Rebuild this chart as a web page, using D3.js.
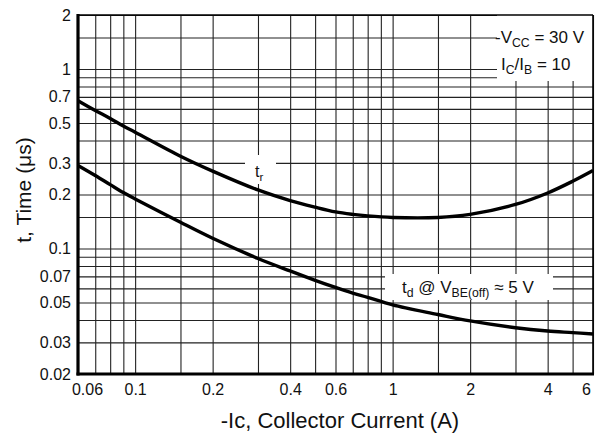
<!DOCTYPE html>
<html>
<head>
<meta charset="utf-8">
<script src="https://cdn.jsdelivr.net/npm/d3@7"></script>
<style>
  body { margin: 0; background: #fff; }
  svg { display: block; font-family: "Liberation Sans", Arial, sans-serif; }
  .grid line { stroke: #222; stroke-width: 1.1; }
  .grid path { display: none; }
  .lbl path { display: none; }
  .lbl text { font-size: 16px; fill: #111; }
  .curve { fill: none; stroke: #000; stroke-width: 3.4; }
</style>
</head>
<body>
<script>
// switching time vs collector current
const current = [0.06, 0.07, 0.08, 0.09, 0.1, 0.15, 0.2, 0.3, 0.4, 0.5, 0.6, 0.7, 0.8, 1, 1.5, 2, 3, 4, 5, 6];
const tRise = [0.665, 0.588, 0.53, 0.481, 0.445, 0.327, 0.27, 0.212, 0.185, 0.17, 0.16, 0.155, 0.152, 0.149, 0.149, 0.155, 0.176, 0.204, 0.237, 0.272];
const tDelay = [0.29, 0.255, 0.227, 0.205, 0.189, 0.14, 0.114, 0.088, 0.075, 0.0665, 0.0607, 0.0565, 0.0535, 0.0485, 0.0429, 0.0395, 0.0362, 0.0347, 0.034, 0.0334];

const xGrid = [0.06, 0.07, 0.08, 0.09, 0.1, 0.15, 0.2, 0.3, 0.4, 0.5, 0.6, 0.7, 0.8, 0.9, 1, 1.5, 2, 3, 4, 5, 6];
const yGrid = [0.02, 0.03, 0.04, 0.05, 0.06, 0.07, 0.08, 0.09, 0.1, 0.15, 0.2, 0.3, 0.4, 0.5, 0.6, 0.7, 0.8, 0.9, 1, 1.5, 2];
const xTicks = [0.06, 0.1, 0.2, 0.4, 0.6, 1, 2, 4, 6];
const yTicks = [0.02, 0.03, 0.05, 0.07, 0.1, 0.2, 0.3, 0.5, 0.7, 1, 2];

const width = 606;
const height = 438;
const pl = 78, pr = 593, pt = 15, pb = 374;

const x = d3.scaleLog().domain([0.06, 6]).range([pl, pr]);
const y = d3.scaleLog().domain([0.02, 2]).range([pb, pt]);

const svg = d3.select('body').append('svg')
  .attr('width', width)
  .attr('height', height);

// grid
svg.append('g')
  .attr('class', 'grid')
  .attr('transform', `translate(0,${pb})`)
  .call(d3.axisBottom(x).tickValues(xGrid).tickSize(-(pb - pt)).tickFormat(''));

svg.append('g')
  .attr('class', 'grid')
  .attr('transform', `translate(${pl},0)`)
  .call(d3.axisLeft(y).tickValues(yGrid).tickSize(-(pr - pl)).tickFormat(''));

// white label boxes
const box = (x0, y0, x1, y1) => svg.append('rect')
  .attr('x', x0).attr('y', y0).attr('width', x1 - x0).attr('height', y1 - y0)
  .attr('fill', '#fff');
box(497, pt, pr, 81);
box(245, 155, 276, 184);
box(385, 274, 553, 300);

// curves
const line = (vals) => d3.line()
  .x((d, i) => x(current[i]))
  .y((d) => y(d))
  .curve(d3.curveCatmullRom.alpha(0.5))(vals);

svg.append('path').attr('class', 'curve').attr('d', line(tRise));
svg.append('path').attr('class', 'curve').attr('d', line(tDelay));

// frame
svg.append('line').attr('x1', pl).attr('x2', pr).attr('y1', pt).attr('y2', pt)
  .attr('stroke', '#000').attr('stroke-width', 1.6);
svg.append('line').attr('x1', pr).attr('x2', pr).attr('y1', pt).attr('y2', pb)
  .attr('stroke', '#000').attr('stroke-width', 1.6);
svg.append('line').attr('x1', pl).attr('x2', pl).attr('y1', pt - 1).attr('y2', pb + 1.5)
  .attr('stroke', '#000').attr('stroke-width', 3.2);
svg.append('line').attr('x1', pl - 1.5).attr('x2', pr + 1).attr('y1', pb).attr('y2', pb)
  .attr('stroke', '#000').attr('stroke-width', 2.8);

// tick labels
const xl = svg.append('g')
  .attr('class', 'lbl')
  .attr('transform', `translate(0,${pb})`)
  .call(d3.axisBottom(x).tickValues(xTicks).tickSize(0).tickPadding(10).tickFormat((d) => String(d)));
xl.selectAll('text')
  .attr('dx', (d, i) => i === 0 ? 9 : (i === xTicks.length - 1 ? -7 : 0));

svg.append('g')
  .attr('class', 'lbl')
  .attr('transform', `translate(${pl},0)`)
  .call(d3.axisLeft(y).tickValues(yTicks).tickSize(0).tickPadding(7).tickFormat((d) => String(d)));

// axis titles
svg.append('text')
  .attr('x', 340).attr('y', 428)
  .attr('text-anchor', 'middle')
  .attr('font-size', 22)
  .attr('fill', '#111')
  .text('-Ic, Collector Current (A)');

svg.append('text')
  .attr('transform', 'translate(31,190) rotate(-90)')
  .attr('text-anchor', 'middle')
  .attr('font-size', 21)
  .attr('fill', '#111')
  .text('t, Time (μs)');

// annotations with subscripts
const note = (px, py, size, parts) => {
  const t = svg.append('text').attr('x', px).attr('y', py).attr('font-size', size).attr('fill', '#111');
  let low = false;
  parts.forEach(([s, sub]) => {
    const sp = t.append('tspan').text(s);
    if (sub && !low) { sp.attr('dy', 4).attr('font-size', size * 0.72); low = true; }
    else if (sub) { sp.attr('font-size', size * 0.72); }
    else if (low) { sp.attr('dy', -4); low = false; }
  });
};

note(495, 43, 17, [['-V'], ['CC', true], [' = 30 V']]);
note(501, 70, 17, [['I'], ['C', true], ['/I'], ['B', true], [' = 10']]);
note(255, 177, 16, [['t'], ['r', true]]);
note(402, 293, 17, [['t'], ['d', true], [' @ V'], ['BE(off)', true], [' ≈ 5 V']]);
</script>
</body>
</html>
